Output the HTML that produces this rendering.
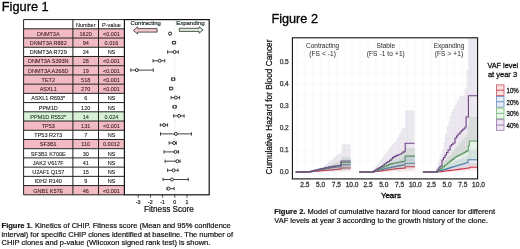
<!DOCTYPE html>
<html><head><meta charset="utf-8"><style>
html,body{margin:0;padding:0;background:#fff;width:520px;height:249px;overflow:hidden}
svg{display:block;font-family:"Liberation Sans", Arial, sans-serif;filter:blur(0.25px)}
</style></head><body>
<svg width="520" height="249" viewBox="0 0 520 249">
<text x="1.80" y="10.60" font-size="12.8" text-anchor="start" fill="#000" font-weight="normal" stroke="#000" stroke-width="0.3" stroke-linejoin="round">Figure 1</text>
<rect x="23.6" y="28.82" width="100.80000000000001" height="9.22" fill="#f2bbc4"/>
<rect x="23.6" y="38.04" width="100.80000000000001" height="9.22" fill="#f2bbc4"/>
<rect x="23.6" y="47.26" width="100.80000000000001" height="9.22" fill="#fff"/>
<rect x="23.6" y="56.48" width="100.80000000000001" height="9.22" fill="#f2bbc4"/>
<rect x="23.6" y="65.71" width="100.80000000000001" height="9.22" fill="#f2bbc4"/>
<rect x="23.6" y="74.93" width="100.80000000000001" height="9.22" fill="#f2bbc4"/>
<rect x="23.6" y="84.15" width="100.80000000000001" height="9.22" fill="#f2bbc4"/>
<rect x="23.6" y="93.37" width="100.80000000000001" height="9.22" fill="#fff"/>
<rect x="23.6" y="102.59" width="100.80000000000001" height="9.22" fill="#fff"/>
<rect x="23.6" y="111.81" width="100.80000000000001" height="9.22" fill="#d8f0d6"/>
<rect x="23.6" y="121.03" width="100.80000000000001" height="9.22" fill="#f2bbc4"/>
<rect x="23.6" y="130.25" width="100.80000000000001" height="9.22" fill="#fff"/>
<rect x="23.6" y="139.47" width="100.80000000000001" height="9.22" fill="#f2bbc4"/>
<rect x="23.6" y="148.69" width="100.80000000000001" height="9.22" fill="#fff"/>
<rect x="23.6" y="157.92" width="100.80000000000001" height="9.22" fill="#fff"/>
<rect x="23.6" y="167.14" width="100.80000000000001" height="9.22" fill="#fff"/>
<rect x="23.6" y="176.36" width="100.80000000000001" height="9.22" fill="#fff"/>
<rect x="23.6" y="185.58" width="100.80000000000001" height="9.22" fill="#f2bbc4"/>
<line x1="23.6" y1="19.60" x2="124.4" y2="19.60" stroke="#222" stroke-width="1"/>
<line x1="23.6" y1="28.82" x2="124.4" y2="28.82" stroke="#222" stroke-width="1"/>
<line x1="23.6" y1="38.04" x2="124.4" y2="38.04" stroke="#222" stroke-width="1"/>
<line x1="23.6" y1="47.26" x2="124.4" y2="47.26" stroke="#222" stroke-width="1"/>
<line x1="23.6" y1="56.48" x2="124.4" y2="56.48" stroke="#222" stroke-width="1"/>
<line x1="23.6" y1="65.71" x2="124.4" y2="65.71" stroke="#222" stroke-width="1"/>
<line x1="23.6" y1="74.93" x2="124.4" y2="74.93" stroke="#222" stroke-width="1"/>
<line x1="23.6" y1="84.15" x2="124.4" y2="84.15" stroke="#222" stroke-width="1"/>
<line x1="23.6" y1="93.37" x2="124.4" y2="93.37" stroke="#222" stroke-width="1"/>
<line x1="23.6" y1="102.59" x2="124.4" y2="102.59" stroke="#222" stroke-width="1"/>
<line x1="23.6" y1="111.81" x2="124.4" y2="111.81" stroke="#222" stroke-width="1"/>
<line x1="23.6" y1="121.03" x2="124.4" y2="121.03" stroke="#222" stroke-width="1"/>
<line x1="23.6" y1="130.25" x2="124.4" y2="130.25" stroke="#222" stroke-width="1"/>
<line x1="23.6" y1="139.47" x2="124.4" y2="139.47" stroke="#222" stroke-width="1"/>
<line x1="23.6" y1="148.69" x2="124.4" y2="148.69" stroke="#222" stroke-width="1"/>
<line x1="23.6" y1="157.92" x2="124.4" y2="157.92" stroke="#222" stroke-width="1"/>
<line x1="23.6" y1="167.14" x2="124.4" y2="167.14" stroke="#222" stroke-width="1"/>
<line x1="23.6" y1="176.36" x2="124.4" y2="176.36" stroke="#222" stroke-width="1"/>
<line x1="23.6" y1="185.58" x2="124.4" y2="185.58" stroke="#222" stroke-width="1"/>
<line x1="23.6" y1="194.80" x2="124.4" y2="194.80" stroke="#222" stroke-width="1"/>
<line x1="23.6" y1="19.6" x2="23.6" y2="194.8" stroke="#222" stroke-width="1"/>
<line x1="72.9" y1="19.6" x2="72.9" y2="194.8" stroke="#222" stroke-width="1"/>
<line x1="98.5" y1="19.6" x2="98.5" y2="194.8" stroke="#222" stroke-width="1"/>
<text x="48.25" y="26.59" font-size="5.5" text-anchor="middle" fill="#111" font-weight="normal" stroke="#111" stroke-width="0.08" ></text>
<text x="85.70" y="26.59" font-size="5.5" text-anchor="middle" fill="#111" font-weight="normal" stroke="#111" stroke-width="0.08" >Number</text>
<text x="111.45" y="26.59" font-size="5.5" text-anchor="middle" fill="#111" font-weight="normal" stroke="#111" stroke-width="0.08" >P-value</text>
<text x="48.25" y="35.81" font-size="5.5" text-anchor="middle" fill="#3a1a20" font-weight="normal" stroke="#3a1a20" stroke-width="0.08" >DNMT3A</text>
<text x="85.70" y="35.81" font-size="5.5" text-anchor="middle" fill="#3a1a20" font-weight="normal" stroke="#3a1a20" stroke-width="0.08" >1620</text>
<text x="111.45" y="35.81" font-size="5.5" text-anchor="middle" fill="#3a1a20" font-weight="normal" stroke="#3a1a20" stroke-width="0.08" >&lt;0.001</text>
<text x="48.25" y="45.03" font-size="5.5" text-anchor="middle" fill="#3a1a20" font-weight="normal" stroke="#3a1a20" stroke-width="0.08" >DNMT3A R882</text>
<text x="85.70" y="45.03" font-size="5.5" text-anchor="middle" fill="#3a1a20" font-weight="normal" stroke="#3a1a20" stroke-width="0.08" >94</text>
<text x="111.45" y="45.03" font-size="5.5" text-anchor="middle" fill="#3a1a20" font-weight="normal" stroke="#3a1a20" stroke-width="0.08" >0.016</text>
<text x="48.25" y="54.25" font-size="5.5" text-anchor="middle" fill="#111" font-weight="normal" stroke="#111" stroke-width="0.08" >DNMT3A R729</text>
<text x="85.70" y="54.25" font-size="5.5" text-anchor="middle" fill="#111" font-weight="normal" stroke="#111" stroke-width="0.08" >24</text>
<text x="111.45" y="54.25" font-size="5.5" text-anchor="middle" fill="#111" font-weight="normal" stroke="#111" stroke-width="0.08" >NS</text>
<text x="48.25" y="63.47" font-size="5.5" text-anchor="middle" fill="#3a1a20" font-weight="normal" stroke="#3a1a20" stroke-width="0.08" >DNMT3A S393N</text>
<text x="85.70" y="63.47" font-size="5.5" text-anchor="middle" fill="#3a1a20" font-weight="normal" stroke="#3a1a20" stroke-width="0.08" >28</text>
<text x="111.45" y="63.47" font-size="5.5" text-anchor="middle" fill="#3a1a20" font-weight="normal" stroke="#3a1a20" stroke-width="0.08" >&lt;0.001</text>
<text x="48.25" y="72.70" font-size="5.5" text-anchor="middle" fill="#3a1a20" font-weight="normal" stroke="#3a1a20" stroke-width="0.08" >DNMT3A A266D</text>
<text x="85.70" y="72.70" font-size="5.5" text-anchor="middle" fill="#3a1a20" font-weight="normal" stroke="#3a1a20" stroke-width="0.08" >19</text>
<text x="111.45" y="72.70" font-size="5.5" text-anchor="middle" fill="#3a1a20" font-weight="normal" stroke="#3a1a20" stroke-width="0.08" >&lt;0.001</text>
<text x="48.25" y="81.92" font-size="5.5" text-anchor="middle" fill="#3a1a20" font-weight="normal" stroke="#3a1a20" stroke-width="0.08" >TET2</text>
<text x="85.70" y="81.92" font-size="5.5" text-anchor="middle" fill="#3a1a20" font-weight="normal" stroke="#3a1a20" stroke-width="0.08" >518</text>
<text x="111.45" y="81.92" font-size="5.5" text-anchor="middle" fill="#3a1a20" font-weight="normal" stroke="#3a1a20" stroke-width="0.08" >&lt;0.001</text>
<text x="48.25" y="91.14" font-size="5.5" text-anchor="middle" fill="#3a1a20" font-weight="normal" stroke="#3a1a20" stroke-width="0.08" >ASXL1</text>
<text x="85.70" y="91.14" font-size="5.5" text-anchor="middle" fill="#3a1a20" font-weight="normal" stroke="#3a1a20" stroke-width="0.08" >270</text>
<text x="111.45" y="91.14" font-size="5.5" text-anchor="middle" fill="#3a1a20" font-weight="normal" stroke="#3a1a20" stroke-width="0.08" >&lt;0.001</text>
<text x="48.25" y="100.36" font-size="5.5" text-anchor="middle" fill="#111" font-weight="normal" stroke="#111" stroke-width="0.08" >ASXL1 R693*</text>
<text x="85.70" y="100.36" font-size="5.5" text-anchor="middle" fill="#111" font-weight="normal" stroke="#111" stroke-width="0.08" >6</text>
<text x="111.45" y="100.36" font-size="5.5" text-anchor="middle" fill="#111" font-weight="normal" stroke="#111" stroke-width="0.08" >NS</text>
<text x="48.25" y="109.58" font-size="5.5" text-anchor="middle" fill="#111" font-weight="normal" stroke="#111" stroke-width="0.08" >PPM1D</text>
<text x="85.70" y="109.58" font-size="5.5" text-anchor="middle" fill="#111" font-weight="normal" stroke="#111" stroke-width="0.08" >120</text>
<text x="111.45" y="109.58" font-size="5.5" text-anchor="middle" fill="#111" font-weight="normal" stroke="#111" stroke-width="0.08" >NS</text>
<text x="48.25" y="118.80" font-size="5.5" text-anchor="middle" fill="#1a301a" font-weight="normal" stroke="#1a301a" stroke-width="0.08" >PPM1D R552*</text>
<text x="85.70" y="118.80" font-size="5.5" text-anchor="middle" fill="#1a301a" font-weight="normal" stroke="#1a301a" stroke-width="0.08" >14</text>
<text x="111.45" y="118.80" font-size="5.5" text-anchor="middle" fill="#1a301a" font-weight="normal" stroke="#1a301a" stroke-width="0.08" >0.024</text>
<text x="48.25" y="128.02" font-size="5.5" text-anchor="middle" fill="#3a1a20" font-weight="normal" stroke="#3a1a20" stroke-width="0.08" >TP53</text>
<text x="85.70" y="128.02" font-size="5.5" text-anchor="middle" fill="#3a1a20" font-weight="normal" stroke="#3a1a20" stroke-width="0.08" >131</text>
<text x="111.45" y="128.02" font-size="5.5" text-anchor="middle" fill="#3a1a20" font-weight="normal" stroke="#3a1a20" stroke-width="0.08" >&lt;0.001</text>
<text x="48.25" y="137.24" font-size="5.5" text-anchor="middle" fill="#111" font-weight="normal" stroke="#111" stroke-width="0.08" >TP53 R273</text>
<text x="85.70" y="137.24" font-size="5.5" text-anchor="middle" fill="#111" font-weight="normal" stroke="#111" stroke-width="0.08" >7</text>
<text x="111.45" y="137.24" font-size="5.5" text-anchor="middle" fill="#111" font-weight="normal" stroke="#111" stroke-width="0.08" >NS</text>
<text x="48.25" y="146.46" font-size="5.5" text-anchor="middle" fill="#3a1a20" font-weight="normal" stroke="#3a1a20" stroke-width="0.08" >SF3B1</text>
<text x="85.70" y="146.46" font-size="5.5" text-anchor="middle" fill="#3a1a20" font-weight="normal" stroke="#3a1a20" stroke-width="0.08" >110</text>
<text x="111.45" y="146.46" font-size="5.5" text-anchor="middle" fill="#3a1a20" font-weight="normal" stroke="#3a1a20" stroke-width="0.08" >0.0012</text>
<text x="48.25" y="155.69" font-size="5.5" text-anchor="middle" fill="#111" font-weight="normal" stroke="#111" stroke-width="0.08" >SF3B1 K700E</text>
<text x="85.70" y="155.69" font-size="5.5" text-anchor="middle" fill="#111" font-weight="normal" stroke="#111" stroke-width="0.08" >30</text>
<text x="111.45" y="155.69" font-size="5.5" text-anchor="middle" fill="#111" font-weight="normal" stroke="#111" stroke-width="0.08" >NS</text>
<text x="48.25" y="164.91" font-size="5.5" text-anchor="middle" fill="#111" font-weight="normal" stroke="#111" stroke-width="0.08" >JAK2 V617F</text>
<text x="85.70" y="164.91" font-size="5.5" text-anchor="middle" fill="#111" font-weight="normal" stroke="#111" stroke-width="0.08" >41</text>
<text x="111.45" y="164.91" font-size="5.5" text-anchor="middle" fill="#111" font-weight="normal" stroke="#111" stroke-width="0.08" >NS</text>
<text x="48.25" y="174.13" font-size="5.5" text-anchor="middle" fill="#111" font-weight="normal" stroke="#111" stroke-width="0.08" >U2AF1 Q157</text>
<text x="85.70" y="174.13" font-size="5.5" text-anchor="middle" fill="#111" font-weight="normal" stroke="#111" stroke-width="0.08" >15</text>
<text x="111.45" y="174.13" font-size="5.5" text-anchor="middle" fill="#111" font-weight="normal" stroke="#111" stroke-width="0.08" >NS</text>
<text x="48.25" y="183.35" font-size="5.5" text-anchor="middle" fill="#111" font-weight="normal" stroke="#111" stroke-width="0.08" >IDH2 R140</text>
<text x="85.70" y="183.35" font-size="5.5" text-anchor="middle" fill="#111" font-weight="normal" stroke="#111" stroke-width="0.08" >9</text>
<text x="111.45" y="183.35" font-size="5.5" text-anchor="middle" fill="#111" font-weight="normal" stroke="#111" stroke-width="0.08" >NS</text>
<text x="48.25" y="192.57" font-size="5.5" text-anchor="middle" fill="#3a1a20" font-weight="normal" stroke="#3a1a20" stroke-width="0.08" >GNB1 K57E</text>
<text x="85.70" y="192.57" font-size="5.5" text-anchor="middle" fill="#3a1a20" font-weight="normal" stroke="#3a1a20" stroke-width="0.08" >46</text>
<text x="111.45" y="192.57" font-size="5.5" text-anchor="middle" fill="#3a1a20" font-weight="normal" stroke="#3a1a20" stroke-width="0.08" >&lt;0.001</text>
<line x1="174.80" y1="19.6" x2="174.80" y2="194.8" stroke="#efefef" stroke-width="1"/>
<line x1="169.30" y1="33.6" x2="170.90" y2="33.6" stroke="#222" stroke-width="0.85"/>
<line x1="169.30" y1="31.900000000000002" x2="169.30" y2="35.300000000000004" stroke="#222" stroke-width="0.85"/>
<line x1="170.90" y1="31.900000000000002" x2="170.90" y2="35.300000000000004" stroke="#222" stroke-width="0.85"/>
<circle cx="170.1" cy="33.6" r="1.5" fill="#fff" stroke="#111" stroke-width="0.85"/>
<line x1="172.40" y1="42.7" x2="175.60" y2="42.7" stroke="#222" stroke-width="0.85"/>
<line x1="172.40" y1="41.0" x2="172.40" y2="44.400000000000006" stroke="#222" stroke-width="0.85"/>
<line x1="175.60" y1="41.0" x2="175.60" y2="44.400000000000006" stroke="#222" stroke-width="0.85"/>
<circle cx="174.0" cy="42.7" r="1.5" fill="#fff" stroke="#111" stroke-width="0.85"/>
<line x1="167.60" y1="52.0" x2="178.40" y2="52.0" stroke="#222" stroke-width="0.85"/>
<line x1="167.60" y1="50.3" x2="167.60" y2="53.7" stroke="#222" stroke-width="0.85"/>
<line x1="178.40" y1="50.3" x2="178.40" y2="53.7" stroke="#222" stroke-width="0.85"/>
<circle cx="174.6" cy="52.0" r="1.5" fill="#fff" stroke="#111" stroke-width="0.85"/>
<line x1="153.00" y1="60.8" x2="164.80" y2="60.8" stroke="#222" stroke-width="0.85"/>
<line x1="153.00" y1="59.099999999999994" x2="153.00" y2="62.5" stroke="#222" stroke-width="0.85"/>
<line x1="164.80" y1="59.099999999999994" x2="164.80" y2="62.5" stroke="#222" stroke-width="0.85"/>
<circle cx="159.7" cy="60.8" r="1.5" fill="#fff" stroke="#111" stroke-width="0.85"/>
<line x1="130.80" y1="70.1" x2="153.30" y2="70.1" stroke="#222" stroke-width="0.85"/>
<line x1="130.80" y1="68.39999999999999" x2="130.80" y2="71.8" stroke="#222" stroke-width="0.85"/>
<line x1="153.30" y1="68.39999999999999" x2="153.30" y2="71.8" stroke="#222" stroke-width="0.85"/>
<circle cx="136.8" cy="70.1" r="1.5" fill="#fff" stroke="#111" stroke-width="0.85"/>
<line x1="171.60" y1="79.1" x2="174.80" y2="79.1" stroke="#222" stroke-width="0.85"/>
<line x1="171.60" y1="77.39999999999999" x2="171.60" y2="80.8" stroke="#222" stroke-width="0.85"/>
<line x1="174.80" y1="77.39999999999999" x2="174.80" y2="80.8" stroke="#222" stroke-width="0.85"/>
<circle cx="173.2" cy="79.1" r="1.5" fill="#fff" stroke="#111" stroke-width="0.85"/>
<line x1="169.50" y1="88.5" x2="172.70" y2="88.5" stroke="#222" stroke-width="0.85"/>
<line x1="169.50" y1="86.8" x2="169.50" y2="90.2" stroke="#222" stroke-width="0.85"/>
<line x1="172.70" y1="86.8" x2="172.70" y2="90.2" stroke="#222" stroke-width="0.85"/>
<circle cx="171.1" cy="88.5" r="1.5" fill="#fff" stroke="#111" stroke-width="0.85"/>
<line x1="171.10" y1="97.6" x2="179.60" y2="97.6" stroke="#222" stroke-width="0.85"/>
<line x1="171.10" y1="95.89999999999999" x2="171.10" y2="99.3" stroke="#222" stroke-width="0.85"/>
<line x1="179.60" y1="95.89999999999999" x2="179.60" y2="99.3" stroke="#222" stroke-width="0.85"/>
<circle cx="175.9" cy="97.6" r="1.5" fill="#fff" stroke="#111" stroke-width="0.85"/>
<line x1="173.00" y1="106.8" x2="176.20" y2="106.8" stroke="#222" stroke-width="0.85"/>
<line x1="173.00" y1="105.1" x2="173.00" y2="108.5" stroke="#222" stroke-width="0.85"/>
<line x1="176.20" y1="105.1" x2="176.20" y2="108.5" stroke="#222" stroke-width="0.85"/>
<circle cx="174.6" cy="106.8" r="1.5" fill="#fff" stroke="#111" stroke-width="0.85"/>
<line x1="173.60" y1="115.9" x2="184.10" y2="115.9" stroke="#222" stroke-width="0.85"/>
<line x1="173.60" y1="114.2" x2="173.60" y2="117.60000000000001" stroke="#222" stroke-width="0.85"/>
<line x1="184.10" y1="114.2" x2="184.10" y2="117.60000000000001" stroke="#222" stroke-width="0.85"/>
<circle cx="179.1" cy="115.9" r="1.5" fill="#fff" stroke="#111" stroke-width="0.85"/>
<line x1="160.30" y1="125.0" x2="167.60" y2="125.0" stroke="#222" stroke-width="0.85"/>
<line x1="160.30" y1="123.3" x2="160.30" y2="126.7" stroke="#222" stroke-width="0.85"/>
<line x1="167.60" y1="123.3" x2="167.60" y2="126.7" stroke="#222" stroke-width="0.85"/>
<circle cx="164.1" cy="125.0" r="1.5" fill="#fff" stroke="#111" stroke-width="0.85"/>
<line x1="160.50" y1="133.9" x2="191.40" y2="133.9" stroke="#222" stroke-width="0.85"/>
<line x1="160.50" y1="132.20000000000002" x2="160.50" y2="135.6" stroke="#222" stroke-width="0.85"/>
<line x1="191.40" y1="132.20000000000002" x2="191.40" y2="135.6" stroke="#222" stroke-width="0.85"/>
<circle cx="175.9" cy="133.9" r="1.5" fill="#fff" stroke="#111" stroke-width="0.85"/>
<line x1="169.10" y1="143.0" x2="176.30" y2="143.0" stroke="#222" stroke-width="0.85"/>
<line x1="169.10" y1="141.3" x2="169.10" y2="144.7" stroke="#222" stroke-width="0.85"/>
<line x1="176.30" y1="141.3" x2="176.30" y2="144.7" stroke="#222" stroke-width="0.85"/>
<circle cx="174.1" cy="143.0" r="1.5" fill="#fff" stroke="#111" stroke-width="0.85"/>
<line x1="164.00" y1="151.9" x2="178.60" y2="151.9" stroke="#222" stroke-width="0.85"/>
<line x1="164.00" y1="150.20000000000002" x2="164.00" y2="153.6" stroke="#222" stroke-width="0.85"/>
<line x1="178.60" y1="150.20000000000002" x2="178.60" y2="153.6" stroke="#222" stroke-width="0.85"/>
<circle cx="175.6" cy="151.9" r="1.5" fill="#fff" stroke="#111" stroke-width="0.85"/>
<line x1="165.10" y1="161.2" x2="180.10" y2="161.2" stroke="#222" stroke-width="0.85"/>
<line x1="165.10" y1="159.5" x2="165.10" y2="162.89999999999998" stroke="#222" stroke-width="0.85"/>
<line x1="180.10" y1="159.5" x2="180.10" y2="162.89999999999998" stroke="#222" stroke-width="0.85"/>
<circle cx="177.3" cy="161.2" r="1.5" fill="#fff" stroke="#111" stroke-width="0.85"/>
<line x1="167.60" y1="170.3" x2="178.10" y2="170.3" stroke="#222" stroke-width="0.85"/>
<line x1="167.60" y1="168.60000000000002" x2="167.60" y2="172.0" stroke="#222" stroke-width="0.85"/>
<line x1="178.10" y1="168.60000000000002" x2="178.10" y2="172.0" stroke="#222" stroke-width="0.85"/>
<circle cx="173.6" cy="170.3" r="1.5" fill="#fff" stroke="#111" stroke-width="0.85"/>
<line x1="163.00" y1="179.5" x2="188.20" y2="179.5" stroke="#222" stroke-width="0.85"/>
<line x1="163.00" y1="177.8" x2="163.00" y2="181.2" stroke="#222" stroke-width="0.85"/>
<line x1="188.20" y1="177.8" x2="188.20" y2="181.2" stroke="#222" stroke-width="0.85"/>
<circle cx="171.9" cy="179.5" r="1.5" fill="#fff" stroke="#111" stroke-width="0.85"/>
<line x1="167.00" y1="188.6" x2="174.10" y2="188.6" stroke="#222" stroke-width="0.85"/>
<line x1="167.00" y1="186.9" x2="167.00" y2="190.29999999999998" stroke="#222" stroke-width="0.85"/>
<line x1="174.10" y1="186.9" x2="174.10" y2="190.29999999999998" stroke="#222" stroke-width="0.85"/>
<circle cx="168.6" cy="188.6" r="1.5" fill="#fff" stroke="#111" stroke-width="0.85"/>
<rect x="124.4" y="19.6" width="84.80" height="175.20" fill="none" stroke="#111" stroke-width="1.2"/>
<text x="130.60" y="25.00" font-size="5.9" text-anchor="start" fill="#263232" font-weight="normal" stroke="#263232" stroke-width="0.22" >Contracting</text>
<text x="176.20" y="25.00" font-size="6.0" text-anchor="start" fill="#263232" font-weight="normal" stroke="#263232" stroke-width="0.22" >Expanding</text>
<path d="M133.3,30.4 L137.7,26.9 L137.7,28.6 L157.1,28.6 L157.1,32.1 L137.7,32.1 L137.7,34.0 Z" fill="#f5c8ce" stroke="#3a3a3a" stroke-width="0.85" stroke-linejoin="miter"/>
<path d="M203.1,29.9 L199.1,26.8 L199.1,28.3 L179.3,28.3 L179.3,31.4 L199.1,31.4 L199.1,33.2 Z" fill="#dcefd8" stroke="#3a3a3a" stroke-width="0.85"/>
<line x1="138.20" y1="194.8" x2="138.20" y2="197.70" stroke="#222" stroke-width="0.8"/>
<text x="138.20" y="203.60" font-size="5.3" text-anchor="middle" fill="#222" font-weight="normal" stroke="#222" stroke-width="0.2" >-3</text>
<line x1="150.40" y1="194.8" x2="150.40" y2="197.70" stroke="#222" stroke-width="0.8"/>
<text x="150.40" y="203.60" font-size="5.3" text-anchor="middle" fill="#222" font-weight="normal" stroke="#222" stroke-width="0.2" >-2</text>
<line x1="162.60" y1="194.8" x2="162.60" y2="197.70" stroke="#222" stroke-width="0.8"/>
<text x="162.60" y="203.60" font-size="5.3" text-anchor="middle" fill="#222" font-weight="normal" stroke="#222" stroke-width="0.2" >-1</text>
<line x1="174.80" y1="194.8" x2="174.80" y2="197.70" stroke="#222" stroke-width="0.8"/>
<text x="174.80" y="203.60" font-size="5.3" text-anchor="middle" fill="#222" font-weight="normal" stroke="#222" stroke-width="0.2" >0</text>
<line x1="187.00" y1="194.8" x2="187.00" y2="197.70" stroke="#222" stroke-width="0.8"/>
<text x="187.00" y="203.60" font-size="5.3" text-anchor="middle" fill="#222" font-weight="normal" stroke="#222" stroke-width="0.2" >1</text>
<text x="168.90" y="211.90" font-size="8.15" text-anchor="middle" fill="#111" font-weight="normal" stroke="#111" stroke-width="0.2" >Fitness Score</text>
<text x="1.60" y="228.20" font-size="7.5" text-anchor="start" fill="#111" font-weight="normal" stroke="#111" stroke-width="0.2" class="cap1"><tspan font-weight="bold">Figure 1</tspan>. Kinetics of CHIP. Fitness score (Mean and 95% confidence</text>
<text x="1.60" y="236.75" font-size="7.5" text-anchor="start" fill="#111" font-weight="normal" stroke="#111" stroke-width="0.2" class="cap1">interval) for specific CHIP clones identified at baseline. The number of</text>
<text x="1.60" y="245.30" font-size="7.5" text-anchor="start" fill="#111" font-weight="normal" stroke="#111" stroke-width="0.2" class="cap1">CHIP clones and p-value (Wilcoxon signed rank test) is shown.</text>
<text x="271.40" y="23.40" font-size="12.7" text-anchor="start" fill="#000" font-weight="normal" stroke="#000" stroke-width="0.3" stroke-linejoin="round">Figure 2</text>
<clipPath id="pc"><rect x="292.4" y="37.8" width="185.20" height="141.10"/></clipPath>
<g clip-path="url(#pc)">
<line x1="296.98" y1="37.8" x2="296.98" y2="178.9" stroke="#f7f7f7" stroke-width="0.8"/>
<line x1="304.85" y1="37.8" x2="304.85" y2="178.9" stroke="#f7f7f7" stroke-width="0.8"/>
<line x1="312.73" y1="37.8" x2="312.73" y2="178.9" stroke="#f7f7f7" stroke-width="0.8"/>
<line x1="320.60" y1="37.8" x2="320.60" y2="178.9" stroke="#f7f7f7" stroke-width="0.8"/>
<line x1="328.48" y1="37.8" x2="328.48" y2="178.9" stroke="#f7f7f7" stroke-width="0.8"/>
<line x1="336.35" y1="37.8" x2="336.35" y2="178.9" stroke="#f7f7f7" stroke-width="0.8"/>
<line x1="344.23" y1="37.8" x2="344.23" y2="178.9" stroke="#f7f7f7" stroke-width="0.8"/>
<line x1="352.10" y1="37.8" x2="352.10" y2="178.9" stroke="#f7f7f7" stroke-width="0.8"/>
<line x1="360.18" y1="37.8" x2="360.18" y2="178.9" stroke="#f7f7f7" stroke-width="0.8"/>
<line x1="368.05" y1="37.8" x2="368.05" y2="178.9" stroke="#f7f7f7" stroke-width="0.8"/>
<line x1="375.93" y1="37.8" x2="375.93" y2="178.9" stroke="#f7f7f7" stroke-width="0.8"/>
<line x1="383.80" y1="37.8" x2="383.80" y2="178.9" stroke="#f7f7f7" stroke-width="0.8"/>
<line x1="391.68" y1="37.8" x2="391.68" y2="178.9" stroke="#f7f7f7" stroke-width="0.8"/>
<line x1="399.55" y1="37.8" x2="399.55" y2="178.9" stroke="#f7f7f7" stroke-width="0.8"/>
<line x1="407.43" y1="37.8" x2="407.43" y2="178.9" stroke="#f7f7f7" stroke-width="0.8"/>
<line x1="415.30" y1="37.8" x2="415.30" y2="178.9" stroke="#f7f7f7" stroke-width="0.8"/>
<line x1="423.38" y1="37.8" x2="423.38" y2="178.9" stroke="#f7f7f7" stroke-width="0.8"/>
<line x1="431.25" y1="37.8" x2="431.25" y2="178.9" stroke="#f7f7f7" stroke-width="0.8"/>
<line x1="439.12" y1="37.8" x2="439.12" y2="178.9" stroke="#f7f7f7" stroke-width="0.8"/>
<line x1="447.00" y1="37.8" x2="447.00" y2="178.9" stroke="#f7f7f7" stroke-width="0.8"/>
<line x1="454.88" y1="37.8" x2="454.88" y2="178.9" stroke="#f7f7f7" stroke-width="0.8"/>
<line x1="462.75" y1="37.8" x2="462.75" y2="178.9" stroke="#f7f7f7" stroke-width="0.8"/>
<line x1="470.62" y1="37.8" x2="470.62" y2="178.9" stroke="#f7f7f7" stroke-width="0.8"/>
<line x1="478.50" y1="37.8" x2="478.50" y2="178.9" stroke="#f7f7f7" stroke-width="0.8"/>
<line x1="292.4" y1="172.00" x2="477.6" y2="172.00" stroke="#f7f7f7" stroke-width="0.8"/>
<line x1="292.4" y1="161.00" x2="477.6" y2="161.00" stroke="#f7f7f7" stroke-width="0.8"/>
<line x1="292.4" y1="150.00" x2="477.6" y2="150.00" stroke="#f7f7f7" stroke-width="0.8"/>
<line x1="292.4" y1="139.00" x2="477.6" y2="139.00" stroke="#f7f7f7" stroke-width="0.8"/>
<line x1="292.4" y1="128.00" x2="477.6" y2="128.00" stroke="#f7f7f7" stroke-width="0.8"/>
<line x1="292.4" y1="117.00" x2="477.6" y2="117.00" stroke="#f7f7f7" stroke-width="0.8"/>
<line x1="292.4" y1="106.00" x2="477.6" y2="106.00" stroke="#f7f7f7" stroke-width="0.8"/>
<line x1="292.4" y1="95.00" x2="477.6" y2="95.00" stroke="#f7f7f7" stroke-width="0.8"/>
<line x1="292.4" y1="84.00" x2="477.6" y2="84.00" stroke="#f7f7f7" stroke-width="0.8"/>
<line x1="292.4" y1="73.00" x2="477.6" y2="73.00" stroke="#f7f7f7" stroke-width="0.8"/>
<line x1="292.4" y1="62.00" x2="477.6" y2="62.00" stroke="#f7f7f7" stroke-width="0.8"/>
<line x1="292.4" y1="51.00" x2="477.6" y2="51.00" stroke="#f7f7f7" stroke-width="0.8"/>
<line x1="292.4" y1="40.00" x2="477.6" y2="40.00" stroke="#f7f7f7" stroke-width="0.8"/>
<path d="M295.60,172.00 H297.15 V172.00 H298.70 V172.00 H300.25 V172.00 H301.80 V172.00 H303.35 V172.00 H304.90 V172.00 H306.45 V172.00 H308.00 V172.00 H309.50 V171.85 H311.00 V171.70 H312.50 V171.55 H314.00 V171.40 H315.50 V171.25 H317.00 V171.10 H318.50 V170.95 H320.00 V170.80 H321.67 V170.67 H323.33 V170.53 H325.00 V170.40 H326.67 V170.27 H328.33 V170.13 H330.00 V170.00 H331.51 V169.86 H333.03 V169.71 H334.54 V169.57 H336.06 V169.43 H337.57 V169.29 H339.09 V169.14 H340.60 V169.00 H341.00 V168.00 H342.63 V168.00 H344.27 V168.00 H345.90 V168.00 H347.53 V168.00 H349.17 V168.00 H350.80 V168.00" fill="none" stroke="#dc2c40" stroke-width="1.1"/>
<path d="M295.60,172.00 H297.15 V172.00 H298.70 V172.00 H300.25 V172.00 H301.80 V172.00 H303.35 V172.00 H304.90 V172.00 H306.45 V172.00 H308.00 V172.00 H309.50 V171.72 H311.00 V171.45 H312.50 V171.18 H314.00 V170.90 H315.50 V170.62 H317.00 V170.35 H318.50 V170.08 H320.00 V169.80 H321.67 V169.47 H323.33 V169.13 H325.00 V168.80 H326.67 V168.47 H328.33 V168.13 H330.00 V167.80 H331.51 V167.61 H333.03 V167.43 H334.54 V167.24 H336.06 V167.06 H337.57 V166.87 H339.09 V166.69 H340.60 V166.50 H341.00 V164.80 H342.63 V164.80 H344.27 V164.80 H345.90 V164.80 H347.53 V164.80 H349.17 V164.80 H350.80 V164.80" fill="none" stroke="#4a78a8" stroke-width="1.1"/>
<path d="M295.60,172.00 H297.15 V172.00 H298.70 V172.00 H300.25 V172.00 H301.80 V172.00 H303.35 V172.00 H304.90 V172.00 H306.45 V172.00 H308.00 V172.00 H309.50 V171.66 H311.00 V171.32 H312.50 V170.99 H314.00 V170.65 H315.50 V170.31 H317.00 V169.98 H318.50 V169.64 H320.00 V169.30 H321.67 V168.92 H323.33 V168.53 H325.00 V168.15 H326.67 V167.77 H328.33 V167.38 H330.00 V167.00 H331.51 V166.76 H333.03 V166.51 H334.54 V166.27 H336.06 V166.03 H337.57 V165.79 H339.09 V165.54 H340.60 V165.30 H341.00 V162.50 H342.63 V162.50 H344.27 V162.50 H345.90 V162.50 H347.53 V162.50 H349.17 V162.50 H350.80 V162.50" fill="none" stroke="#529c56" stroke-width="1.1"/>
<path d="M295.60,172.00 H297.15 V171.97 H298.70 V171.95 H300.25 V171.93 H301.80 V171.90 H303.35 V171.88 H304.90 V171.85 H306.45 V171.83 H308.00 V171.80 H309.50 V171.44 H311.00 V171.08 H312.50 V170.71 H314.00 V170.35 H315.50 V169.99 H317.00 V169.62 H318.50 V169.26 H320.00 V168.90 H321.67 V168.55 H323.33 V168.20 H325.00 V167.85 H326.67 V167.50 H328.33 V167.15 H330.00 V166.80 H331.51 V166.59 H333.03 V166.37 H334.54 V166.16 H336.06 V165.94 H337.57 V165.73 H339.09 V165.51 H340.60 V165.30 H341.00 V161.00 H342.63 V161.00 H344.27 V161.00 H345.90 V161.00 H347.53 V161.00 H349.17 V161.00 H350.80 V161.00" fill="none" stroke="#6e3a82" stroke-width="1.1"/>
<path d="M295.60,172.00 H297.15 V171.94 H298.70 V171.88 H300.25 V171.81 H301.80 V171.75 H303.35 V171.69 H304.90 V171.62 H306.45 V171.56 H308.00 V171.50 H309.50 V171.19 H311.00 V170.88 H312.50 V170.56 H314.00 V170.25 H315.50 V169.94 H317.00 V169.62 H318.50 V169.31 H320.00 V169.00 H321.67 V168.67 H323.33 V168.33 H325.00 V168.00 H326.67 V167.67 H328.33 V167.33 H330.00 V167.00 H331.67 V166.75 H333.33 V166.50 H335.00 V166.25 H336.67 V166.00 H338.33 V165.75 H340.00 V165.50 H341.00 V163.50 H342.63 V163.50 H344.27 V163.50 H345.90 V163.50 H347.53 V163.50 H349.17 V163.50 H350.80 V163.50 L350.80,171.00 V171.07 H349.26 V171.14 H347.71 V171.21 H346.17 V171.29 H344.63 V171.36 H343.09 V171.43 H341.54 V171.50 H340.00 V171.52 H338.41 V171.54 H336.83 V171.55 H335.24 V171.57 H333.66 V171.59 H332.07 V171.61 H330.49 V171.62 H328.90 V171.64 H327.31 V171.66 H325.73 V171.68 H324.14 V171.70 H322.56 V171.71 H320.97 V171.73 H319.39 V171.75 H317.80 V171.77 H316.21 V171.79 H314.63 V171.80 H313.04 V171.82 H311.46 V171.84 H309.87 V171.86 H308.29 V171.88 H306.70 V171.89 H305.11 V171.91 H303.53 V171.93 H301.94 V171.95 H300.36 V171.96 H298.77 V171.98 H297.19 V172.00 H295.60 Z" fill="#d25566" fill-opacity="0.150" stroke="none"/>
<path d="M295.60,172.00 H297.15 V171.94 H298.70 V171.88 H300.25 V171.81 H301.80 V171.75 H303.35 V171.69 H304.90 V171.62 H306.45 V171.56 H308.00 V171.50 H309.50 V171.25 H311.00 V171.00 H312.50 V170.75 H314.00 V170.50 H315.50 V170.25 H317.00 V170.00 H318.50 V169.75 H320.00 V169.50 H321.67 V168.92 H323.33 V168.33 H325.00 V167.75 H326.67 V167.17 H328.33 V166.58 H330.00 V166.00 H331.67 V165.58 H333.33 V165.17 H335.00 V164.75 H336.67 V164.33 H338.33 V163.92 H340.00 V163.50 H341.00 V159.50 H342.63 V159.50 H344.27 V159.50 H345.90 V159.50 H347.53 V159.50 H349.17 V159.50 H350.80 V159.50 L350.80,170.00 V170.07 H349.26 V170.14 H347.71 V170.21 H346.17 V170.29 H344.63 V170.36 H343.09 V170.43 H341.54 V170.50 H340.00 V170.55 H338.41 V170.61 H336.83 V170.66 H335.24 V170.71 H333.66 V170.77 H332.07 V170.82 H330.49 V170.88 H328.90 V170.93 H327.31 V170.98 H325.73 V171.04 H324.14 V171.09 H322.56 V171.14 H320.97 V171.20 H319.39 V171.25 H317.80 V171.30 H316.21 V171.36 H314.63 V171.41 H313.04 V171.46 H311.46 V171.52 H309.87 V171.57 H308.29 V171.62 H306.70 V171.68 H305.11 V171.73 H303.53 V171.79 H301.94 V171.84 H300.36 V171.89 H298.77 V171.95 H297.19 V172.00 H295.60 Z" fill="#5f85b0" fill-opacity="0.150" stroke="none"/>
<path d="M295.60,172.00 H297.15 V171.94 H298.70 V171.88 H300.25 V171.81 H301.80 V171.75 H303.35 V171.69 H304.90 V171.62 H306.45 V171.56 H308.00 V171.50 H309.50 V171.19 H311.00 V170.88 H312.50 V170.56 H314.00 V170.25 H315.50 V169.94 H317.00 V169.62 H318.50 V169.31 H320.00 V169.00 H321.67 V168.17 H323.33 V167.33 H325.00 V166.50 H326.67 V165.67 H328.33 V164.83 H330.00 V164.00 H331.67 V163.50 H333.33 V163.00 H335.00 V162.50 H336.67 V162.00 H338.33 V161.50 H340.00 V161.00 H341.00 V157.00 H342.63 V157.00 H344.27 V157.00 H345.90 V157.00 H347.53 V157.00 H349.17 V157.00 H350.80 V157.00 L350.80,169.00 V169.14 H349.26 V169.29 H347.71 V169.43 H346.17 V169.57 H344.63 V169.71 H343.09 V169.86 H341.54 V170.00 H340.00 V170.07 H338.41 V170.14 H336.83 V170.21 H335.24 V170.29 H333.66 V170.36 H332.07 V170.43 H330.49 V170.50 H328.90 V170.57 H327.31 V170.64 H325.73 V170.71 H324.14 V170.79 H322.56 V170.86 H320.97 V170.93 H319.39 V171.00 H317.80 V171.07 H316.21 V171.14 H314.63 V171.21 H313.04 V171.29 H311.46 V171.36 H309.87 V171.43 H308.29 V171.50 H306.70 V171.57 H305.11 V171.64 H303.53 V171.71 H301.94 V171.79 H300.36 V171.86 H298.77 V171.93 H297.19 V172.00 H295.60 Z" fill="#5f9e62" fill-opacity="0.150" stroke="none"/>
<path d="M295.60,172.00 H297.15 V171.94 H298.70 V171.88 H300.25 V171.81 H301.80 V171.75 H303.35 V171.69 H304.90 V171.62 H306.45 V171.56 H308.00 V171.50 H309.75 V171.12 H311.50 V170.75 H313.25 V170.38 H315.00 V170.00 H316.67 V169.33 H318.33 V168.67 H320.00 V168.00 H321.67 V167.00 H323.33 V166.00 H325.00 V165.00 H326.67 V163.50 H328.33 V162.00 H330.00 V160.50 H331.67 V159.00 H333.33 V157.50 H335.00 V156.00 H336.40 V155.15 H337.80 V154.30 H339.20 V153.45 H340.60 V152.60 H341.60 V152.60 H341.60 V144.20 H343.13 V144.20 H344.67 V144.20 H346.20 V144.20 H347.73 V144.20 H349.27 V144.20 H350.80 V144.20 L350.80,168.00 V168.14 H349.26 V168.29 H347.71 V168.43 H346.17 V168.57 H344.63 V168.71 H343.09 V168.86 H341.54 V169.00 H340.00 V169.11 H338.41 V169.21 H336.83 V169.32 H335.24 V169.43 H333.66 V169.54 H332.07 V169.64 H330.49 V169.75 H328.90 V169.86 H327.31 V169.96 H325.73 V170.07 H324.14 V170.18 H322.56 V170.29 H320.97 V170.39 H319.39 V170.50 H317.80 V170.61 H316.21 V170.71 H314.63 V170.82 H313.04 V170.93 H311.46 V171.04 H309.87 V171.14 H308.29 V171.25 H306.70 V171.36 H305.11 V171.46 H303.53 V171.57 H301.94 V171.68 H300.36 V171.79 H298.77 V171.89 H297.19 V172.00 H295.60 Z" fill="#7d6596" fill-opacity="0.150" stroke="none"/>
<path d="M359.20,172.00 H360.80 V172.00 H362.40 V172.00 H364.00 V172.00 H365.60 V172.00 H367.20 V172.00 H368.80 V172.00 H370.40 V172.00 H372.00 V172.00 H373.62 V171.79 H375.25 V171.57 H376.88 V171.36 H378.50 V171.15 H380.12 V170.94 H381.75 V170.73 H383.38 V170.51 H385.00 V170.30 H386.67 V170.05 H388.33 V169.80 H390.00 V169.55 H391.67 V169.30 H393.33 V169.05 H395.00 V168.80 H396.67 V168.67 H398.33 V168.53 H400.00 V168.40 H401.67 V168.27 H403.33 V168.13 H405.00 V168.00 H405.20 V166.70 H406.83 V166.70 H408.47 V166.70 H410.10 V166.70 H411.73 V166.70 H413.37 V166.70 H415.00 V166.70" fill="none" stroke="#dc2c40" stroke-width="1.1"/>
<path d="M359.20,172.00 H360.80 V172.00 H362.40 V172.00 H364.00 V172.00 H365.60 V172.00 H367.20 V172.00 H368.80 V172.00 H370.40 V172.00 H372.00 V172.00 H373.62 V171.56 H375.25 V171.12 H376.88 V170.69 H378.50 V170.25 H380.12 V169.81 H381.75 V169.38 H383.38 V168.94 H385.00 V168.50 H386.67 V168.17 H388.33 V167.83 H390.00 V167.50 H391.67 V167.17 H393.33 V166.83 H395.00 V166.50 H396.67 V166.17 H398.33 V165.83 H400.00 V165.50 H401.67 V165.17 H403.33 V164.83 H405.00 V164.50 H405.20 V163.20 H406.83 V163.20 H408.47 V163.20 H410.10 V163.20 H411.73 V163.20 H413.37 V163.20 H415.00 V163.20" fill="none" stroke="#4a78a8" stroke-width="1.1"/>
<path d="M359.20,172.00 H360.80 V172.00 H362.40 V172.00 H364.00 V172.00 H365.60 V172.00 H367.20 V172.00 H368.80 V172.00 H370.40 V172.00 H372.00 V172.00 H373.60 V171.30 H375.20 V170.60 H376.80 V169.90 H378.40 V169.20 H380.00 V168.50 H381.67 V167.73 H383.33 V166.97 H385.00 V166.20 H386.67 V165.43 H388.33 V164.67 H390.00 V163.90 H391.67 V163.58 H393.33 V163.26 H395.00 V162.93 H396.67 V162.61 H398.33 V162.29 H400.00 V161.97 H401.67 V161.64 H403.33 V161.32 H405.00 V161.00 H405.20 V156.10 H406.83 V156.10 H408.47 V156.10 H410.10 V156.10 H411.73 V156.10 H413.37 V156.10 H415.00 V156.10" fill="none" stroke="#529c56" stroke-width="1.1"/>
<path d="M359.20,172.00 H360.80 V172.00 H362.40 V172.00 H364.00 V172.00 H365.60 V172.00 H367.20 V172.00 H368.80 V172.00 H370.40 V172.00 H372.00 V172.00 H373.75 V170.88 H375.50 V169.75 H377.25 V168.62 H379.00 V167.50 H380.80 V166.45 H382.60 V165.40 H384.35 V163.95 H386.10 V162.50 H387.85 V161.45 H389.60 V160.40 H391.05 V159.00 H392.50 V157.60 H393.75 V156.85 H395.00 V156.10 H396.67 V155.40 H398.33 V154.70 H400.00 V154.00 H401.50 V152.95 H403.00 V151.90 H405.00 V151.20 H405.20 V143.20 H406.75 V143.20 H408.30 V143.20 H409.85 V143.20 H411.40 V143.20 H412.95 V143.20 H414.50 V143.20" fill="none" stroke="#6e3a82" stroke-width="1.1"/>
<path d="M359.20,172.00 H360.80 V171.94 H362.40 V171.88 H364.00 V171.81 H365.60 V171.75 H367.20 V171.69 H368.80 V171.62 H370.40 V171.56 H372.00 V171.50 H373.64 V171.18 H375.27 V170.86 H376.91 V170.55 H378.55 V170.23 H380.18 V169.91 H381.82 V169.59 H383.45 V169.27 H385.09 V168.95 H386.73 V168.64 H388.36 V168.32 H390.00 V168.00 H391.69 V167.44 H393.38 V166.89 H395.07 V166.33 H396.76 V165.78 H398.44 V165.22 H400.13 V164.67 H401.82 V164.11 H403.51 V163.56 H405.20 V163.00 H406.83 V163.00 H408.47 V163.00 H410.10 V163.00 H411.73 V163.00 H413.37 V163.00 H415.00 V163.00 L415.00,170.50 V170.61 H413.33 V170.72 H411.67 V170.83 H410.00 V170.94 H408.33 V171.06 H406.67 V171.17 H405.00 V171.28 H403.33 V171.39 H401.67 V171.50 H400.00 V171.52 H398.43 V171.54 H396.86 V171.56 H395.29 V171.58 H393.72 V171.60 H392.15 V171.62 H390.58 V171.63 H389.02 V171.65 H387.45 V171.67 H385.88 V171.69 H384.31 V171.71 H382.74 V171.73 H381.17 V171.75 H379.60 V171.77 H378.03 V171.79 H376.46 V171.81 H374.89 V171.83 H373.32 V171.85 H371.75 V171.87 H370.18 V171.88 H368.62 V171.90 H367.05 V171.92 H365.48 V171.94 H363.91 V171.96 H362.34 V171.98 H360.77 V172.00 H359.20 Z" fill="#d25566" fill-opacity="0.150" stroke="none"/>
<path d="M359.20,172.00 H360.80 V171.94 H362.40 V171.88 H364.00 V171.81 H365.60 V171.75 H367.20 V171.69 H368.80 V171.62 H370.40 V171.56 H372.00 V171.50 H373.62 V170.81 H375.25 V170.12 H376.88 V169.44 H378.50 V168.75 H380.12 V168.06 H381.75 V167.38 H383.38 V166.69 H385.00 V166.00 H386.67 V165.33 H388.33 V164.67 H390.00 V164.00 H391.67 V163.33 H393.33 V162.67 H395.00 V162.00 H396.67 V161.33 H398.33 V160.67 H400.00 V160.00 H401.73 V158.33 H403.47 V156.67 H405.20 V155.00 H406.83 V155.00 H408.47 V155.00 H410.10 V155.00 H411.73 V155.00 H413.37 V155.00 H415.00 V155.00 L415.00,168.00 V168.16 H413.42 V168.32 H411.84 V168.47 H410.26 V168.63 H408.68 V168.79 H407.11 V168.95 H405.53 V169.11 H403.95 V169.26 H402.37 V169.42 H400.79 V169.58 H399.21 V169.74 H397.63 V169.89 H396.05 V170.05 H394.47 V170.21 H392.89 V170.37 H391.32 V170.53 H389.74 V170.68 H388.16 V170.84 H386.58 V171.00 H385.00 V171.06 H383.39 V171.12 H381.77 V171.19 H380.16 V171.25 H378.55 V171.31 H376.94 V171.38 H375.32 V171.44 H373.71 V171.50 H372.10 V171.56 H370.49 V171.62 H368.88 V171.69 H367.26 V171.75 H365.65 V171.81 H364.04 V171.88 H362.43 V171.94 H360.81 V172.00 H359.20 Z" fill="#5f85b0" fill-opacity="0.150" stroke="none"/>
<path d="M359.20,172.00 H360.80 V171.88 H362.40 V171.75 H364.00 V171.62 H365.60 V171.50 H367.20 V171.38 H368.80 V171.25 H370.40 V171.12 H372.00 V171.00 H373.62 V169.88 H375.25 V168.75 H376.88 V167.62 H378.50 V166.50 H380.12 V165.38 H381.75 V164.25 H383.38 V163.12 H385.00 V162.00 H386.67 V161.33 H388.33 V160.67 H390.00 V160.00 H391.67 V159.33 H393.33 V158.67 H395.00 V158.00 H396.67 V157.33 H398.33 V156.67 H400.00 V156.00 H401.73 V153.33 H403.47 V150.67 H405.20 V148.00 H406.83 V148.00 H408.47 V148.00 H410.10 V148.00 H411.73 V148.00 H413.37 V148.00 H415.00 V148.00 L415.00,165.00 V165.33 H413.33 V165.67 H411.67 V166.00 H410.00 V166.33 H408.33 V166.67 H406.67 V167.00 H405.00 V167.33 H403.33 V167.67 H401.67 V168.00 H400.00 V168.28 H398.33 V168.56 H396.67 V168.83 H395.00 V169.11 H393.33 V169.39 H391.67 V169.67 H390.00 V169.94 H388.33 V170.22 H386.67 V170.50 H385.00 V170.59 H383.39 V170.69 H381.77 V170.78 H380.16 V170.88 H378.55 V170.97 H376.94 V171.06 H375.32 V171.16 H373.71 V171.25 H372.10 V171.34 H370.49 V171.44 H368.88 V171.53 H367.26 V171.62 H365.65 V171.72 H364.04 V171.81 H362.43 V171.91 H360.81 V172.00 H359.20 Z" fill="#5f9e62" fill-opacity="0.150" stroke="none"/>
<path d="M359.20,172.00 H360.80 V171.88 H362.40 V171.75 H364.00 V171.62 H365.60 V171.50 H367.20 V171.38 H368.80 V171.25 H370.40 V171.12 H372.00 V171.00 H373.60 V168.80 H375.20 V166.60 H376.80 V164.40 H378.40 V162.20 H380.00 V160.00 H381.50 V158.00 H383.00 V156.00 H384.50 V154.00 H386.00 V152.00 H387.50 V150.00 H389.00 V148.00 H390.50 V146.00 H392.00 V144.00 H394.00 V142.00 H396.00 V140.00 H397.43 V137.00 H398.85 V134.00 H400.27 V131.00 H401.70 V128.00 H403.45 V128.00 H405.20 V128.00 H405.20 V110.60 H406.75 V110.60 H408.30 V110.60 H409.85 V110.60 H411.40 V110.60 H412.95 V110.60 H414.50 V110.60 L414.50,162.00 V162.00 H412.95 V162.00 H411.40 V162.00 H409.85 V162.00 H408.30 V162.00 H406.75 V162.00 H405.20 V163.33 H403.47 V164.67 H401.73 V166.00 H400.00 V166.42 H398.33 V166.83 H396.67 V167.25 H395.00 V167.67 H393.33 V168.08 H391.67 V168.50 H390.00 V168.92 H388.33 V169.33 H386.67 V169.75 H385.00 V170.17 H383.33 V170.58 H381.67 V171.00 H380.00 V171.08 H378.40 V171.15 H376.80 V171.23 H375.20 V171.31 H373.60 V171.38 H372.00 V171.46 H370.40 V171.54 H368.80 V171.62 H367.20 V171.69 H365.60 V171.77 H364.00 V171.85 H362.40 V171.92 H360.80 V172.00 H359.20 Z" fill="#7d6596" fill-opacity="0.150" stroke="none"/>
<path d="M422.90,172.00 H424.47 V172.00 H426.03 V172.00 H427.60 V172.00 H429.17 V172.00 H430.73 V172.00 H432.30 V172.00 H433.87 V172.00 H435.43 V172.00 H437.00 V172.00 H438.60 V171.80 H440.20 V171.60 H441.80 V171.40 H443.40 V171.20 H445.00 V171.00 H446.60 V170.80 H448.20 V170.60 H449.80 V170.40 H451.40 V170.20 H453.00 V170.00 H454.60 V169.80 H456.27 V169.58 H457.93 V169.36 H459.60 V169.13 H461.27 V168.91 H462.93 V168.69 H464.60 V168.47 H466.27 V168.24 H467.93 V168.02 H469.60 V167.80 H470.00 V167.20 H471.60 V167.20 H473.20 V167.20 H474.80 V167.20 H476.40 V167.20 H478.00 V167.20" fill="none" stroke="#dc2c40" stroke-width="1.1"/>
<path d="M422.90,172.00 H424.54 V172.00 H426.17 V172.00 H427.81 V172.00 H429.45 V172.00 H431.09 V172.00 H432.73 V172.00 H434.36 V172.00 H436.00 V172.00 H437.55 V171.52 H439.10 V171.03 H440.65 V170.55 H442.20 V170.07 H443.75 V169.58 H445.30 V169.10 H446.85 V168.62 H448.40 V168.13 H449.95 V167.65 H451.50 V167.17 H453.05 V166.68 H454.60 V166.20 H456.24 V165.71 H457.89 V165.23 H459.53 V164.74 H461.17 V164.26 H462.81 V163.77 H464.46 V163.29 H466.10 V162.80 H468.00 V159.80 H469.67 V159.80 H471.33 V159.80 H473.00 V159.80 H474.67 V159.80 H476.33 V159.80 H478.00 V159.80" fill="none" stroke="#4a78a8" stroke-width="1.1"/>
<path d="M422.90,172.00 H424.54 V172.00 H426.17 V172.00 H427.81 V172.00 H429.45 V172.00 H431.09 V172.00 H432.73 V172.00 H434.36 V172.00 H436.00 V172.00 H437.67 V170.71 H439.34 V169.43 H441.01 V168.14 H442.69 V166.86 H444.36 V165.57 H446.03 V164.29 H447.70 V163.00 H449.16 V161.80 H450.62 V160.60 H452.08 V159.40 H453.54 V158.20 H455.00 V157.00 H456.50 V156.25 H458.00 V155.50 H459.50 V154.75 H461.00 V154.00 H462.50 V153.25 H464.00 V152.50 H465.40 V151.67 H466.80 V150.83 H468.20 V150.00 H468.20 V146.00 H469.20 V141.00 H470.67 V141.00 H472.13 V141.00 H473.60 V141.00 H475.07 V141.00 H476.53 V141.00 H478.00 V141.00" fill="none" stroke="#529c56" stroke-width="1.1"/>
<path d="M422.90,172.00 H424.30 V172.00 H425.70 V172.00 H427.10 V172.00 H428.50 V172.00 H429.90 V172.00 H431.30 V172.00 H432.70 V172.00 H434.10 V172.00 H435.50 V172.00 H437.00 V170.00 H438.50 V168.00 H440.00 V166.00 H442.00 V160.00 H443.50 V157.50 H445.00 V155.00 H446.50 V152.50 H448.00 V150.00 H450.00 V146.00 H451.50 V144.50 H453.00 V143.00 H455.00 V138.00 H456.50 V136.00 H458.00 V134.00 H460.00 V132.00 H461.50 V130.50 H463.00 V129.00 H465.00 V127.00 H466.10 V122.00 H466.10 V117.00 H468.20 V117.00 H468.40 V95.80 H469.77 V95.80 H471.14 V95.80 H472.51 V95.80 H473.89 V95.80 H475.26 V95.80 H476.63 V95.80 H478.00 V95.80" fill="none" stroke="#6e3a82" stroke-width="1.1"/>
<path d="M422.90,172.00 H424.47 V171.94 H426.03 V171.89 H427.60 V171.83 H429.17 V171.78 H430.73 V171.72 H432.30 V171.67 H433.87 V171.61 H435.43 V171.56 H437.00 V171.50 H438.64 V171.14 H440.27 V170.77 H441.91 V170.41 H443.55 V170.05 H445.18 V169.68 H446.82 V169.32 H448.45 V168.95 H450.09 V168.59 H451.73 V168.23 H453.36 V167.86 H455.00 V167.50 H456.62 V167.00 H458.24 V166.50 H459.87 V166.00 H461.49 V165.50 H463.11 V165.00 H464.73 V164.50 H466.36 V164.00 H467.98 V163.50 H469.60 V163.00 H471.28 V163.00 H472.96 V163.00 H474.64 V163.00 H476.32 V163.00 H478.00 V163.00 L478.00,170.00 V170.11 H476.36 V170.21 H474.71 V170.32 H473.07 V170.43 H471.43 V170.54 H469.79 V170.64 H468.14 V170.75 H466.50 V170.86 H464.86 V170.96 H463.21 V171.07 H461.57 V171.18 H459.93 V171.29 H458.29 V171.39 H456.64 V171.50 H455.00 V171.53 H453.39 V171.55 H451.79 V171.57 H450.19 V171.60 H448.58 V171.62 H446.98 V171.65 H445.37 V171.68 H443.76 V171.70 H442.16 V171.72 H440.56 V171.75 H438.95 V171.78 H437.34 V171.80 H435.74 V171.82 H434.13 V171.85 H432.53 V171.88 H430.92 V171.90 H429.32 V171.93 H427.71 V171.95 H426.11 V171.97 H424.50 V172.00 H422.90 Z" fill="#d25566" fill-opacity="0.150" stroke="none"/>
<path d="M422.90,172.00 H424.54 V171.88 H426.17 V171.75 H427.81 V171.62 H429.45 V171.50 H431.09 V171.38 H432.73 V171.25 H434.36 V171.12 H436.00 V171.00 H437.58 V170.17 H439.17 V169.33 H440.75 V168.50 H442.33 V167.67 H443.92 V166.83 H445.50 V166.00 H447.08 V165.17 H448.67 V164.33 H450.25 V163.50 H451.83 V162.67 H453.42 V161.83 H455.00 V161.00 H456.57 V160.29 H458.14 V159.57 H459.71 V158.86 H461.29 V158.14 H462.86 V157.43 H464.43 V156.71 H466.00 V156.00 H468.00 V150.00 H469.67 V150.00 H471.33 V150.00 H473.00 V150.00 H474.67 V150.00 H476.33 V150.00 H478.00 V150.00 L478.00,166.00 V166.29 H476.36 V166.57 H474.71 V166.86 H473.07 V167.14 H471.43 V167.43 H469.79 V167.71 H468.14 V168.00 H466.50 V168.29 H464.86 V168.57 H463.21 V168.86 H461.57 V169.14 H459.93 V169.43 H458.29 V169.71 H456.64 V170.00 H455.00 V170.10 H453.39 V170.20 H451.79 V170.30 H450.19 V170.40 H448.58 V170.50 H446.98 V170.60 H445.37 V170.70 H443.76 V170.80 H442.16 V170.90 H440.56 V171.00 H438.95 V171.10 H437.34 V171.20 H435.74 V171.30 H434.13 V171.40 H432.53 V171.50 H430.92 V171.60 H429.32 V171.70 H427.71 V171.80 H426.11 V171.90 H424.50 V172.00 H422.90 Z" fill="#5f85b0" fill-opacity="0.150" stroke="none"/>
<path d="M422.90,172.00 H424.54 V171.88 H426.17 V171.75 H427.81 V171.62 H429.45 V171.50 H431.09 V171.38 H432.73 V171.25 H434.36 V171.12 H436.00 V171.00 H437.50 V169.17 H439.00 V167.33 H440.50 V165.50 H442.00 V163.67 H443.50 V161.83 H445.00 V160.00 H446.67 V158.00 H448.33 V156.00 H450.00 V154.00 H451.67 V152.00 H453.33 V150.00 H455.00 V148.00 H456.57 V146.14 H458.14 V144.29 H459.71 V142.43 H461.29 V140.57 H462.86 V138.71 H464.43 V136.86 H466.00 V135.00 H467.50 V126.00 H469.00 V117.00 H470.50 V117.00 H472.00 V117.00 H473.50 V117.00 H475.00 V117.00 H476.50 V117.00 H478.00 V117.00 L478.00,158.00 V158.33 H476.50 V158.67 H475.00 V159.00 H473.50 V159.33 H472.00 V159.67 H470.50 V160.00 H469.00 V160.67 H467.44 V161.33 H465.89 V162.00 H464.33 V162.67 H462.78 V163.33 H461.22 V164.00 H459.67 V164.67 H458.11 V165.33 H456.56 V166.00 H455.00 V166.50 H453.33 V167.00 H451.67 V167.50 H450.00 V168.00 H448.33 V168.50 H446.67 V169.00 H445.00 V169.50 H443.33 V170.00 H441.67 V170.50 H440.00 V170.64 H438.45 V170.77 H436.89 V170.91 H435.34 V171.05 H433.78 V171.18 H432.23 V171.32 H430.67 V171.45 H429.12 V171.59 H427.56 V171.73 H426.01 V171.86 H424.45 V172.00 H422.90 Z" fill="#5f9e62" fill-opacity="0.150" stroke="none"/>
<path d="M422.90,172.00 H424.24 V171.89 H425.59 V171.78 H426.93 V171.67 H428.28 V171.56 H429.62 V171.44 H430.97 V171.33 H432.31 V171.22 H433.66 V171.11 H435.00 V171.00 H436.40 V166.80 H437.80 V162.60 H439.20 V158.40 H440.60 V154.20 H442.00 V150.00 H443.50 V142.00 H445.00 V134.00 H447.00 V126.00 H448.33 V121.33 H449.67 V116.67 H451.00 V112.00 H452.53 V109.00 H454.07 V106.00 H455.60 V103.00 H457.35 V99.50 H459.10 V96.00 H460.45 V96.00 H461.80 V96.00 H463.15 V96.00 H464.50 V96.00 H464.50 V88.50 H466.50 V88.50 H466.50 V70.00 H468.10 V70.00 H468.10 V20.00 H469.51 V20.00 H470.93 V20.00 H472.34 V20.00 H473.76 V20.00 H475.17 V20.00 H476.59 V20.00 H478.00 V20.00 L478.00,140.00 V140.00 H476.63 V140.00 H475.26 V140.00 H473.89 V140.00 H472.51 V140.00 H471.14 V140.00 H469.77 V140.00 H468.40 V146.00 H467.20 V152.00 H466.00 V152.75 H464.62 V153.50 H463.25 V154.25 H461.88 V155.00 H460.50 V155.75 H459.12 V156.50 H457.75 V157.25 H456.38 V158.00 H455.00 V158.86 H453.57 V159.71 H452.14 V160.57 H450.71 V161.43 H449.29 V162.29 H447.86 V163.14 H446.43 V164.00 H445.00 V165.25 H443.50 V166.50 H442.00 V167.75 H440.50 V169.00 H439.00 V170.25 H437.50 V171.50 H436.00 V171.56 H434.54 V171.61 H433.09 V171.67 H431.63 V171.72 H430.18 V171.78 H428.72 V171.83 H427.27 V171.89 H425.81 V171.94 H424.36 V172.00 H422.90 Z" fill="#7d6596" fill-opacity="0.150" stroke="none"/>
</g>
<rect x="292.4" y="37.8" width="185.20" height="141.10" fill="none" stroke="#111" stroke-width="1.1"/>
<text x="322.60" y="47.90" font-size="6.5" text-anchor="middle" fill="#333" font-weight="normal" stroke="#333" stroke-width="0.05" >Contracting</text>
<text x="322.60" y="55.80" font-size="6.5" text-anchor="middle" fill="#333" font-weight="normal" stroke="#333" stroke-width="0.05" letter-spacing="0.12">(FS &lt; -1)</text>
<text x="385.80" y="47.90" font-size="6.5" text-anchor="middle" fill="#333" font-weight="normal" stroke="#333" stroke-width="0.05" >Stable</text>
<text x="385.80" y="55.80" font-size="6.5" text-anchor="middle" fill="#333" font-weight="normal" stroke="#333" stroke-width="0.05" letter-spacing="0.12">(FS -1 to +1)</text>
<text x="449.00" y="47.90" font-size="6.5" text-anchor="middle" fill="#333" font-weight="normal" stroke="#333" stroke-width="0.05" >Expanding</text>
<text x="449.00" y="55.80" font-size="6.5" text-anchor="middle" fill="#333" font-weight="normal" stroke="#333" stroke-width="0.05" letter-spacing="0.12">(FS &gt; +1)</text>
<text x="288.80" y="174.40" font-size="6.6" text-anchor="end" fill="#333" font-weight="normal" stroke="#333" stroke-width="0.25" >0.0</text>
<text x="288.80" y="152.40" font-size="6.6" text-anchor="end" fill="#333" font-weight="normal" stroke="#333" stroke-width="0.25" >0.1</text>
<text x="288.80" y="130.40" font-size="6.6" text-anchor="end" fill="#333" font-weight="normal" stroke="#333" stroke-width="0.25" >0.2</text>
<text x="288.80" y="108.40" font-size="6.6" text-anchor="end" fill="#333" font-weight="normal" stroke="#333" stroke-width="0.25" >0.3</text>
<text x="288.80" y="86.40" font-size="6.6" text-anchor="end" fill="#333" font-weight="normal" stroke="#333" stroke-width="0.25" >0.4</text>
<text x="288.80" y="64.40" font-size="6.6" text-anchor="end" fill="#333" font-weight="normal" stroke="#333" stroke-width="0.25" >0.5</text>
<text x="304.85" y="187.10" font-size="6.6" text-anchor="middle" fill="#333" font-weight="normal" stroke="#333" stroke-width="0.28" >2.5</text>
<text x="320.60" y="187.10" font-size="6.6" text-anchor="middle" fill="#333" font-weight="normal" stroke="#333" stroke-width="0.28" >5.0</text>
<text x="336.35" y="187.10" font-size="6.6" text-anchor="middle" fill="#333" font-weight="normal" stroke="#333" stroke-width="0.28" >7.5</text>
<text x="352.10" y="187.10" font-size="6.6" text-anchor="middle" fill="#333" font-weight="normal" stroke="#333" stroke-width="0.28" >10.0</text>
<text x="368.05" y="187.10" font-size="6.6" text-anchor="middle" fill="#333" font-weight="normal" stroke="#333" stroke-width="0.28" >2.5</text>
<text x="383.80" y="187.10" font-size="6.6" text-anchor="middle" fill="#333" font-weight="normal" stroke="#333" stroke-width="0.28" >5.0</text>
<text x="399.55" y="187.10" font-size="6.6" text-anchor="middle" fill="#333" font-weight="normal" stroke="#333" stroke-width="0.28" >7.5</text>
<text x="415.30" y="187.10" font-size="6.6" text-anchor="middle" fill="#333" font-weight="normal" stroke="#333" stroke-width="0.28" >10.0</text>
<text x="431.25" y="187.10" font-size="6.6" text-anchor="middle" fill="#333" font-weight="normal" stroke="#333" stroke-width="0.28" >2.5</text>
<text x="447.00" y="187.10" font-size="6.6" text-anchor="middle" fill="#333" font-weight="normal" stroke="#333" stroke-width="0.28" >5.0</text>
<text x="462.75" y="187.10" font-size="6.6" text-anchor="middle" fill="#333" font-weight="normal" stroke="#333" stroke-width="0.28" >7.5</text>
<text x="478.50" y="187.10" font-size="6.6" text-anchor="middle" fill="#333" font-weight="normal" stroke="#333" stroke-width="0.28" >10.0</text>
<text x="390.90" y="197.80" font-size="7.95" text-anchor="middle" fill="#111" font-weight="normal" stroke="#111" stroke-width="0.4" >Years</text>
<text x="271.80" y="107.05" font-size="8.3" text-anchor="middle" fill="#111" font-weight="normal" stroke="#111" stroke-width="0.25" transform="rotate(-90 271.8 107.05)">Cumulative Hazard for Blood Cancer</text>
<text x="487.40" y="68.10" font-size="7.3" text-anchor="start" fill="#111" font-weight="normal" stroke="#111" stroke-width="0.28" >VAF level</text>
<text x="487.90" y="77.40" font-size="7.5" text-anchor="start" fill="#111" font-weight="normal" stroke="#111" stroke-width="0.28" >at year 3</text>
<rect x="496.4" y="84.90" width="7.6" height="10.6" fill="#E41A1C" fill-opacity="0.13" stroke="#c8505c" stroke-width="0.8"/>
<line x1="496.4" y1="90.20" x2="504.0" y2="90.20" stroke="#c8505c" stroke-width="1.0"/>
<text x="506.60" y="92.90" font-size="7.5" text-anchor="start" fill="#111" font-weight="normal" stroke="#111" stroke-width="0.28" textLength="12.2" lengthAdjust="spacingAndGlyphs">10%</text>
<rect x="496.4" y="96.50" width="7.6" height="10.6" fill="#377EB8" fill-opacity="0.13" stroke="#6f8fbf" stroke-width="0.8"/>
<line x1="496.4" y1="101.80" x2="504.0" y2="101.80" stroke="#6f8fbf" stroke-width="1.0"/>
<text x="506.60" y="104.50" font-size="7.5" text-anchor="start" fill="#111" font-weight="normal" stroke="#111" stroke-width="0.28" textLength="12.2" lengthAdjust="spacingAndGlyphs">20%</text>
<rect x="496.4" y="108.10" width="7.6" height="10.6" fill="#4DAF4A" fill-opacity="0.13" stroke="#7cba7c" stroke-width="0.8"/>
<line x1="496.4" y1="113.40" x2="504.0" y2="113.40" stroke="#7cba7c" stroke-width="1.0"/>
<text x="506.60" y="116.10" font-size="7.5" text-anchor="start" fill="#111" font-weight="normal" stroke="#111" stroke-width="0.28" textLength="12.2" lengthAdjust="spacingAndGlyphs">30%</text>
<rect x="496.4" y="119.70" width="7.6" height="10.6" fill="#984EA3" fill-opacity="0.13" stroke="#9a74b0" stroke-width="0.8"/>
<line x1="496.4" y1="125.00" x2="504.0" y2="125.00" stroke="#9a74b0" stroke-width="1.0"/>
<text x="506.60" y="127.70" font-size="7.5" text-anchor="start" fill="#111" font-weight="normal" stroke="#111" stroke-width="0.28" textLength="12.2" lengthAdjust="spacingAndGlyphs">40%</text>
<text x="274.20" y="214.30" font-size="7.5" text-anchor="start" fill="#111" font-weight="normal" stroke="#111" stroke-width="0.2" class="cap2"><tspan font-weight="bold">Figure 2.</tspan> Model of cumulative hazard for blood cancer for different</text>
<text x="274.20" y="223.30" font-size="7.5" text-anchor="start" fill="#111" font-weight="normal" stroke="#111" stroke-width="0.2" class="cap2">VAF levels at year 3 according to the growth history of the clone.</text>
</svg>
</body></html>
